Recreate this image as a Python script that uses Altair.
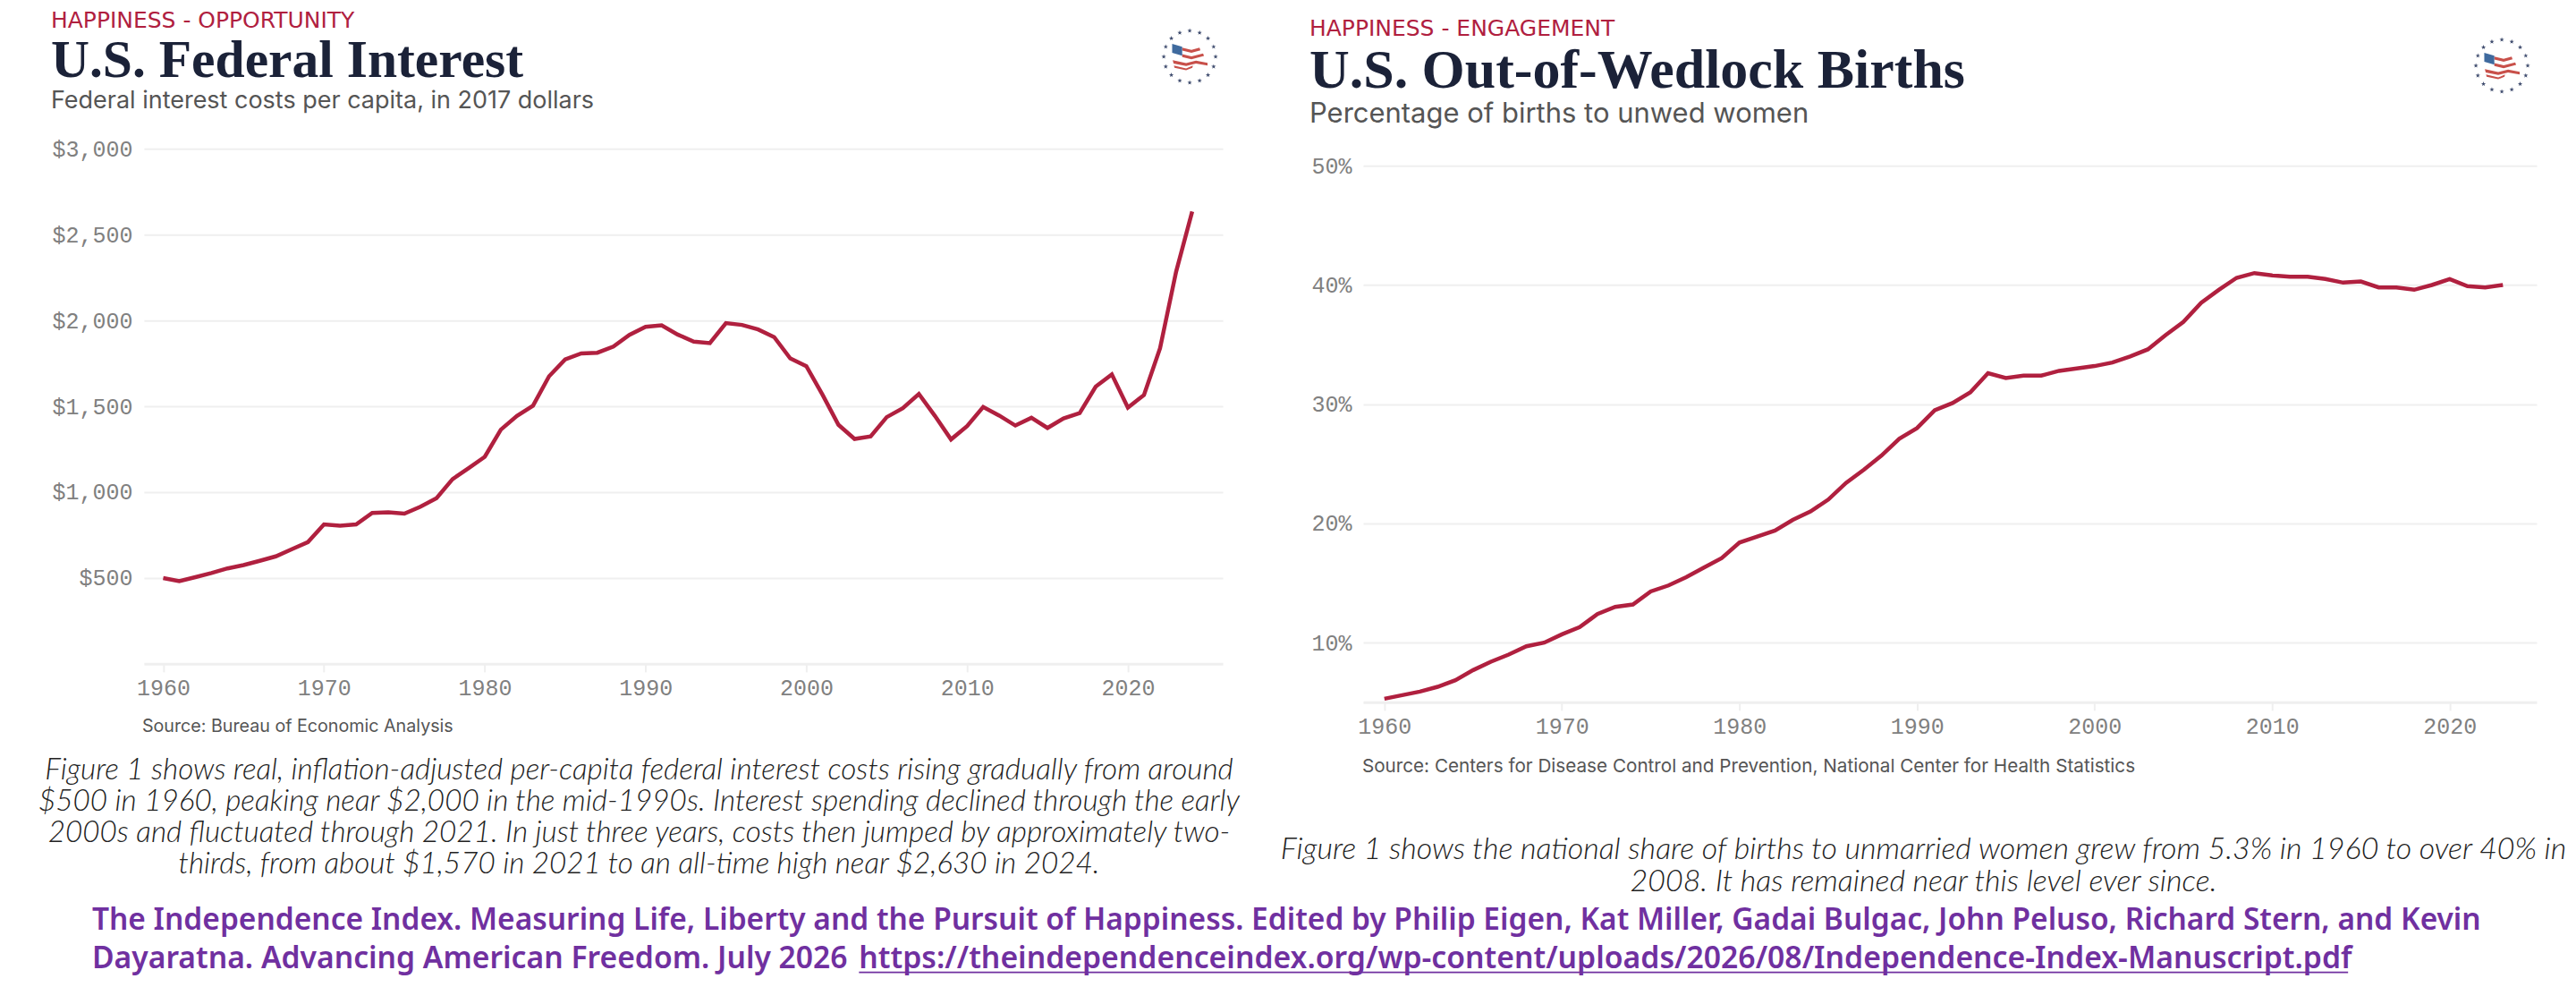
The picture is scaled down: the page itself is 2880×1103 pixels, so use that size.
import math
import altair as alt
import pandas as pd

# ---- data ----
interest_years = list(range(1960, 2025))
interest_values = [500, 482, 505, 529, 556, 575, 600, 626, 668, 709, 812, 805, 812, 879, 883, 875, 915, 965,
                   1076, 1140, 1206, 1364, 1444, 1504, 1675, 1773, 1808, 1812, 1848, 1916, 1963, 1972, 1918,
                   1877, 1868, 1985, 1974, 1948, 1903, 1779, 1734, 1569, 1392, 1310, 1325, 1437, 1489, 1572,
                   1444, 1307, 1385, 1496, 1446, 1388, 1433, 1374, 1430, 1461, 1615, 1686, 1493, 1566, 1838,
                   2284, 2635]
births_years = list(range(1960, 2024))
births_values = [5.3, 5.6, 5.9, 6.3, 6.85, 7.7, 8.4, 9.0, 9.7, 10.0, 10.7, 11.3, 12.4, 13.0, 13.2, 14.3, 14.8,
                 15.5, 16.3, 17.1, 18.4, 18.9, 19.4, 20.3, 21.0, 22.0, 23.4, 24.5, 25.7, 27.1, 28.0, 29.5, 30.1,
                 31.0, 32.6, 32.2, 32.4, 32.4, 32.8, 33.0, 33.2, 33.5, 34.0, 34.6, 35.8, 36.9, 38.5, 39.6, 40.6,
                 41.0, 40.8, 40.7, 40.7, 40.5, 40.2, 40.3, 39.8, 39.8, 39.6, 40.0, 40.5, 39.9, 39.8, 40.0]
x_ticks = [1960, 1970, 1980, 1990, 2000, 2010, 2020]
interest_ticks = [500, 1000, 1500, 2000, 2500, 3000]
births_ticks = [10, 20, 30, 40, 50]

caption_left = [
    "Figure 1 shows real, inflation-adjusted per-capita federal interest costs rising gradually from around",
    "$500 in 1960, peaking near $2,000 in the mid-1990s. Interest spending declined through the early",
    "2000s and fluctuated through 2021. In just three years, costs then jumped by approximately two-",
    "thirds, from about $1,570 in 2021 to an all-time high near $2,630 in 2024.",
]
caption_right = [
    "Figure 1 shows the national share of births to unmarried women grew from 5.3% in 1960 to over 40% in",
    "2008. It has remained near this level ever since.",
]
cite1 = "The Independence Index. Measuring Life, Liberty and the Pursuit of Happiness. Edited by Philip Eigen, Kat Miller, Gadai Bulgac, John Peluso, Richard Stern, and Kevin"
cite2 = "Dayaratna.  Advancing American Freedom. July 2026"
cite_url = "https://theindependenceindex.org/wp-content/uploads/2026/08/Independence-Index-Manuscript.pdf"

RED = "#b0203f"
INK = "#1b2238"
GRID = "#efefef"
PURPLE = "#7030a0"
SANS = "Inter"

P1X, P2X, PY = 161, 1525, 166  # picture position of the two plot origins


def text(s, ix, iy, px, **kw):
    return alt.Chart(pd.DataFrame({"t": [s]})).mark_text(**kw).encode(
        x=alt.value(ix - px), y=alt.value(iy - PY), text="t:N")


def logo(cx, cy, px):
    star = "M0,-1L0.24,-0.31L0.95,-0.31L0.38,0.12L0.59,0.81L0,0.4L-0.59,0.81L-0.38,0.12L-0.95,-0.31L-0.24,-0.31Z"
    ring = pd.DataFrame({
        "sx": [cx - px + 29 * math.sin(2 * math.pi * k / 16) for k in range(16)],
        "sy": [cy - PY - 29 * math.cos(2 * math.pi * k / 16) for k in range(16)],
    })
    stars = alt.Chart(ring).mark_point(shape=star, filled=True, size=30, color="#3f4c6e", opacity=1).encode(
        x=alt.X("sx:Q", scale=None, axis=None), y=alt.Y("sy:Q", scale=None, axis=None))
    red = ("M-0.42,-0.5L0.1,-0.38L0.55,-0.5L0.6,-0.36L0.1,-0.22L-0.42,-0.34Z"
           "M-0.42,-0.14L0.1,-0.02L0.75,-0.18L0.8,-0.04L0.1,0.14L-0.42,0.02Z"
           "M-0.95,0.2L-0.2,0.36L0.35,0.22L1,0.34L1,0.5L0.35,0.38L-0.2,0.52L-0.9,0.38Z"
           "M-0.85,0.62L-0.2,0.76L0.15,0.62L0.18,0.5L-0.2,0.66L-0.88,0.5Z")
    blue = "M-0.98,-0.72L-0.42,-0.56L-0.42,-0.06L-0.98,-0.22Z"
    pos = pd.DataFrame({"sx": [cx - px], "sy": [cy - PY]})
    flag = alt.layer(*[
        alt.Chart(pos).mark_point(shape=p, filled=True, size=1600, color=c, opacity=1).encode(
            x=alt.X("sx:Q", scale=None, axis=None), y=alt.Y("sy:Q", scale=None, axis=None))
        for p, c in ((red, "#c8504a"), (blue, "#3f6a9e"))
    ])
    return [stars, flag]


def panel(years, values, w, h, rng, domain, x_domain, ticks, axis_text, extras):
    df = pd.DataFrame({"year": years, "value": values})
    y_axis = alt.Axis(values=ticks, title=None, domain=False, ticks=False, gridColor=GRID, gridWidth=2,
                      labelFont="Liberation Mono", labelFontSize=25, labelColor="#808080", labelPadding=13,
                      **axis_text)
    line = alt.Chart(df).mark_line(color=RED, strokeWidth=4.5, clip=False).encode(
        x=alt.X("year:Q", scale=alt.Scale(domain=x_domain, nice=False, zero=False),
                axis=alt.Axis(values=x_ticks, format="d", title=None, grid=False, domainColor=GRID, domainWidth=3,
                              tickColor=GRID, tickWidth=2, tickSize=9, labelFont="Liberation Mono", labelFontSize=25,
                              labelColor="#808080", labelPadding=6)),
        y=alt.Y("value:Q", scale=alt.Scale(domain=domain, range=rng, nice=False, zero=False), axis=y_axis),
    )
    return alt.layer(line, *extras).properties(width=w, height=h)


left_extras = [
    text("HAPPINESS - OPPORTUNITY", 57, 23, P1X, font="DejaVu Sans", fontSize=25, color=RED, align="left", baseline="middle"),
    text("U.S. Federal Interest", 57, 86, P1X, font="Liberation Serif", fontSize=59.6, fontWeight="bold", color=INK, align="left", baseline="alphabetic"),
    text("Federal interest costs per capita, in 2017 dollars", 57, 113, P1X, font=SANS, fontSize=27, color="#555555", align="left", baseline="middle"),
    text("Source: Bureau of Economic Analysis", 159, 812, P1X, font=SANS, fontSize=19.7, color="#555555", align="left", baseline="middle"),
    *[text(s, 715, 861 + 35 * i, P1X, font="Lato", fontSize=33.3, fontStyle="italic", fontWeight=300, color="#222222", align="center", baseline="middle") for i, s in enumerate(caption_left)],
    text(cite1, 103, 1029, P1X, font="Noto Sans", fontSize=33.5, fontWeight=600, color=PURPLE, align="left", baseline="middle"),
    text(cite2, 103, 1072, P1X, font="Noto Sans", fontSize=33.7, fontWeight=600, color=PURPLE, align="left", baseline="middle"),
    text(cite_url, 961, 1072, P1X, font="Noto Sans", fontSize=33.75, fontWeight=600, color=PURPLE, align="left", baseline="middle"),
    alt.Chart(pd.DataFrame({"a": [0]})).mark_rule(color=PURPLE, strokeWidth=2).encode(
        x=alt.value(961 - P1X), x2=alt.value(2627 - P1X), y=alt.value(1087 - PY)),
    *logo(1331, 63, P1X),
]

right_extras = [
    text("HAPPINESS - ENGAGEMENT", 1465, 32, P2X, font="DejaVu Sans", fontSize=25, color=RED, align="left", baseline="middle"),
    text("U.S. Out-of-Wedlock Births", 1465, 98, P2X, font="Liberation Serif", fontSize=62, fontWeight="bold", color=INK, align="left", baseline="alphabetic"),
    text("Percentage of births to unwed women", 1465, 128, P2X, font=SANS, fontSize=31, color="#555555", align="left", baseline="middle"),
    text("Source: Centers for Disease Control and Prevention, National Center for Health Statistics", 1524, 857, P2X, font=SANS, fontSize=20.7, color="#555555", align="left", baseline="middle"),
    *[text(s, 2152, 950 + 36 * i, P2X, font="Lato", fontSize=34, fontStyle="italic", fontWeight=300, color="#222222", align="center", baseline="middle") for i, s in enumerate(caption_right)],
    *logo(2799, 73, P2X),
]

left = panel(interest_years, interest_values, 1207, 576, [576, 0], [0, 3000], [1958.8, 2025.9], interest_ticks, {"format": "$,.0f"}, left_extras)
right = panel(births_years, births_values, 1313, 619, [619, 19], [5, 50], [1958.8, 2024.9], births_ticks, {"labelExpr": "datum.value + '%'"}, right_extras)

chart = alt.hconcat(left, right, spacing=P2X - P1X - 1207, bounds="flush").properties(
    padding={"left": 33, "top": 3, "right": 0, "bottom": 2}, background="white"
).configure_view(stroke=None)

chart.save("out.html", embed_options={"renderer": "svg", "actions": False})
